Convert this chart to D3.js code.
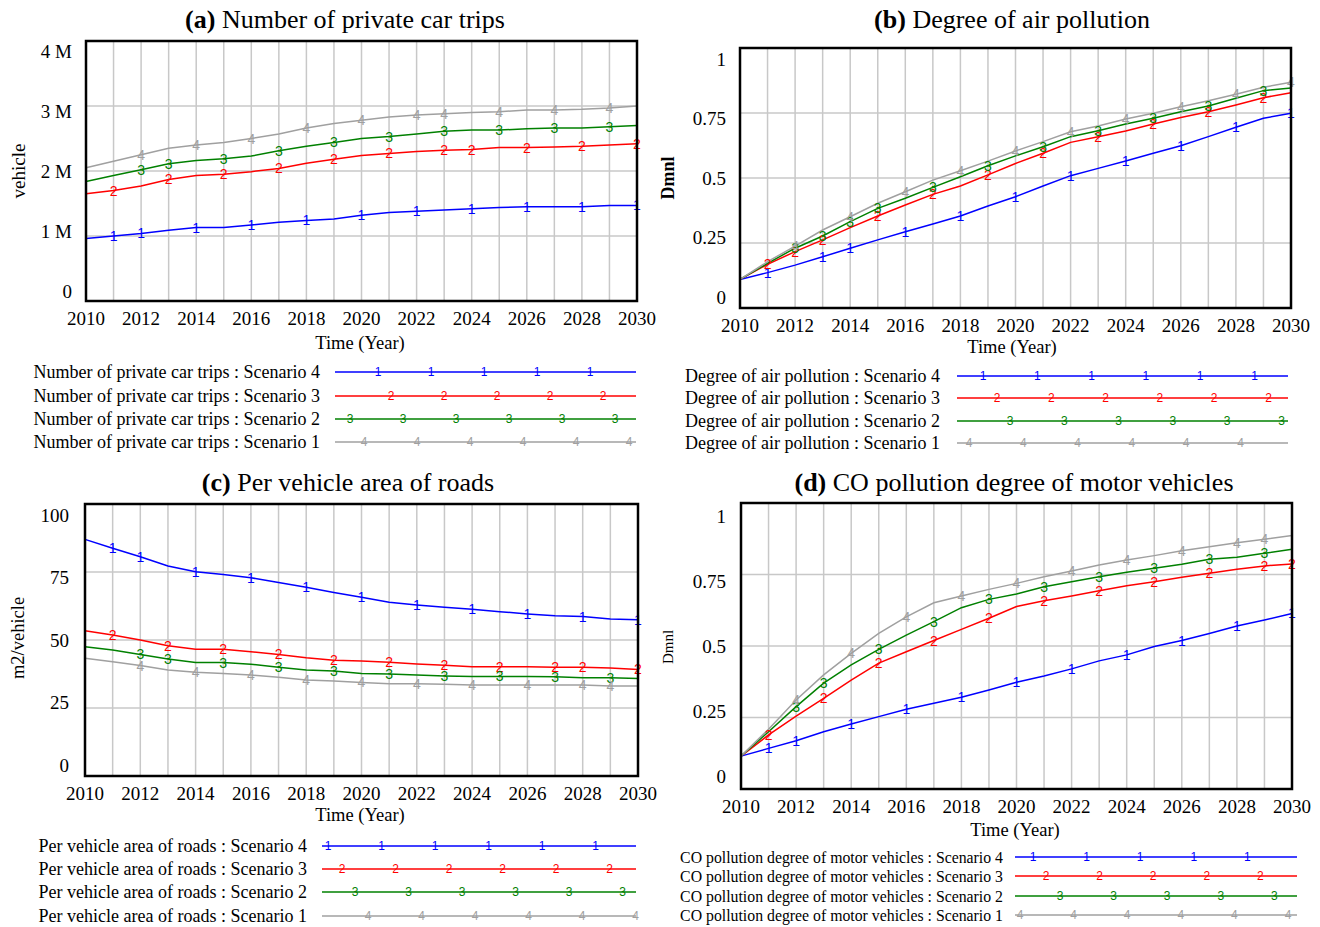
<!DOCTYPE html>
<html>
<head>
<meta charset="utf-8">
<script src="https://cdn.jsdelivr.net/npm/d3@7"></script>
<style>
  body { margin: 0; background: #fff; }
  svg text { font-family: "Liberation Serif", "Times New Roman", serif; fill: #000; }
  .mark { font-family: "Liberation Sans", Arial, sans-serif; }
</style>
</head>
<body>
<div id="chart"></div>
<script>
/** years on the x axis */
let years = [2010, 2011, 2012, 2013, 2014, 2015, 2016, 2017, 2018, 2019, 2020,
  2021, 2022, 2023, 2024, 2025, 2026, 2027, 2028, 2029, 2030];
let xTicks = [2010, 2012, 2014, 2016, 2018, 2020, 2022, 2024, 2026, 2028, 2030];

/** (a) number of private car trips, millions of vehicles */
let tripsS4 = [0.96, 1.00, 1.04, 1.09, 1.13, 1.13, 1.17, 1.21, 1.24, 1.26, 1.32, 1.36, 1.38, 1.40, 1.42, 1.44, 1.45, 1.45, 1.45, 1.47, 1.47];
let tripsS3 = [1.65, 1.70, 1.77, 1.87, 1.93, 1.95, 1.99, 2.04, 2.12, 2.18, 2.24, 2.27, 2.30, 2.32, 2.33, 2.36, 2.36, 2.37, 2.38, 2.40, 2.42];
let tripsS2 = [1.84, 1.93, 2.02, 2.11, 2.16, 2.19, 2.23, 2.31, 2.38, 2.44, 2.50, 2.53, 2.57, 2.61, 2.63, 2.63, 2.65, 2.66, 2.66, 2.68, 2.70];
let tripsS1 = [2.05, 2.15, 2.25, 2.35, 2.40, 2.44, 2.50, 2.57, 2.66, 2.73, 2.78, 2.83, 2.86, 2.88, 2.90, 2.91, 2.94, 2.94, 2.95, 2.97, 3.00];
let tripsTicks = [0, 1, 2, 3, 4];
let tripsTickLabels = ['0', '1 M', '2 M', '3 M', '4 M'];

/** (b) degree of air pollution */
let airS4 = [0.11, 0.136, 0.165, 0.197, 0.23, 0.262, 0.293, 0.323, 0.354, 0.392, 0.428, 0.469, 0.509, 0.537, 0.565, 0.595, 0.624, 0.659, 0.695, 0.73, 0.749];
let airS3 = [0.11, 0.168, 0.217, 0.262, 0.309, 0.354, 0.396, 0.437, 0.469, 0.512, 0.556, 0.595, 0.637, 0.659, 0.681, 0.708, 0.733, 0.755, 0.781, 0.809, 0.828];
let airS2 = [0.11, 0.172, 0.23, 0.277, 0.332, 0.383, 0.422, 0.464, 0.505, 0.547, 0.585, 0.62, 0.659, 0.682, 0.708, 0.73, 0.755, 0.777, 0.807, 0.836, 0.846];
let airS1 = [0.11, 0.178, 0.238, 0.30, 0.351, 0.403, 0.447, 0.492, 0.528, 0.565, 0.604, 0.64, 0.678, 0.70, 0.727, 0.749, 0.774, 0.797, 0.822, 0.849, 0.868];
let dmnlTicks = [0, 0.25, 0.5, 0.75, 1];
let dmnlTickLabels = ['0', '0.25', '0.5', '0.75', '1'];

/** (c) per vehicle area of roads, m2/vehicle */
let areaS4 = [87.0, 83.7, 80.6, 77.2, 75.1, 74.1, 72.9, 71.1, 69.4, 67.5, 65.7, 63.9, 62.9, 62.0, 61.3, 60.4, 59.6, 58.9, 58.6, 57.7, 57.4];
let areaS3 = [53.4, 51.8, 50.0, 47.9, 46.6, 46.6, 45.7, 44.7, 43.5, 42.6, 42.3, 41.8, 41.2, 40.7, 40.2, 40.2, 40.2, 40.0, 40.0, 39.7, 39.2];
let areaS2 = [47.5, 46.3, 44.7, 43.0, 41.7, 41.7, 41.1, 40.0, 39.0, 38.6, 37.7, 37.5, 37.1, 36.8, 36.6, 36.6, 36.6, 36.5, 36.1, 36.1, 35.8];
let areaS1 = [43.3, 42.0, 40.6, 39.0, 38.1, 37.7, 37.1, 36.3, 35.3, 34.9, 34.4, 33.9, 33.9, 33.7, 33.5, 33.5, 33.5, 33.5, 33.5, 33.1, 33.1];
let areaTicks = [0, 25, 50, 75, 100];
let areaTickLabels = ['0', '25', '50', '75', '100'];

/** (d) CO pollution degree of motor vehicles */
let coS4 = [0.115, 0.142, 0.169, 0.20, 0.227, 0.253, 0.279, 0.30, 0.321, 0.346, 0.373, 0.395, 0.42, 0.448, 0.469, 0.498, 0.519, 0.544, 0.57, 0.591, 0.614];
let coS3 = [0.115, 0.189, 0.255, 0.317, 0.381, 0.44, 0.48, 0.519, 0.558, 0.597, 0.638, 0.658, 0.675, 0.693, 0.711, 0.725, 0.74, 0.754, 0.768, 0.78, 0.787];
let coS2 = [0.115, 0.20, 0.288, 0.37, 0.434, 0.488, 0.538, 0.585, 0.634, 0.663, 0.682, 0.707, 0.725, 0.742, 0.758, 0.772, 0.786, 0.803, 0.81, 0.824, 0.838];
let coS1 = [0.115, 0.209, 0.311, 0.399, 0.474, 0.544, 0.602, 0.651, 0.675, 0.698, 0.719, 0.742, 0.762, 0.783, 0.801, 0.816, 0.833, 0.847, 0.861, 0.873, 0.886];

/** scenario names, marker digits and colours (order: scenario 4, 3, 2, 1) */
let scenarios = ['Scenario 4', 'Scenario 3', 'Scenario 2', 'Scenario 1'];
let markDigits = ['1', '2', '3', '4'];
let colors = ['#0000ff', '#ff0000', '#008000', '#a0a0a0'];

/** years where the digit markers sit on each line */
let marksA = [
  [2011, 2012, 2014, 2016, 2018, 2020, 2022, 2024, 2026, 2028, 2030],
  [2011, 2013, 2015, 2017, 2019, 2021, 2023, 2024, 2026, 2028, 2030],
  [2012, 2013, 2015, 2017, 2019, 2021, 2023, 2025, 2027, 2029],
  [2012, 2014, 2016, 2018, 2020, 2022, 2023, 2025, 2027, 2029]];
let marksB = [
  [2011, 2013, 2014, 2016, 2018, 2020, 2022, 2024, 2026, 2028, 2030],
  [2011, 2012, 2013, 2015, 2017, 2019, 2021, 2023, 2025, 2027, 2029],
  [2012, 2013, 2014, 2015, 2017, 2019, 2021, 2023, 2025, 2027, 2029],
  [2012, 2014, 2016, 2018, 2020, 2022, 2024, 2026, 2028, 2030]];
let marksC = [
  [2011, 2012, 2014, 2016, 2018, 2020, 2022, 2024, 2026, 2028, 2030],
  [2011, 2013, 2015, 2017, 2019, 2021, 2023, 2025, 2027, 2028, 2030],
  [2012, 2013, 2015, 2017, 2019, 2021, 2023, 2025, 2027, 2029],
  [2012, 2014, 2016, 2018, 2020, 2022, 2024, 2026, 2028, 2029]];
let marksD = [
  [2011, 2012, 2014, 2016, 2018, 2020, 2022, 2024, 2026, 2028, 2030],
  [2011, 2013, 2015, 2017, 2019, 2021, 2023, 2025, 2027, 2029, 2030],
  [2012, 2013, 2015, 2017, 2019, 2021, 2023, 2025, 2027, 2029],
  [2012, 2014, 2016, 2018, 2020, 2022, 2024, 2026, 2028, 2029]];

let width = 1320;
let height = 927;

let svg = d3.select('#chart')
  .append('svg')
  .attr('width', width)
  .attr('height', height);

/** panel layout */
let panels = [
  {
    tag: '(a)', title: ' Number of private car trips', titleX: 345, titleY: 19,
    series: [tripsS4, tripsS3, tripsS2, tripsS1], marks: marksA,
    yTicks: tripsTicks, yLabels: tripsTickLabels, yMax: 4,
    left: 86, right: 637, top: 41, bottom: 301, yLabelEnd: 72,
    yTitle: 'vehicle', yTitleX: 18, yTitleY: 171, yTitleSize: 19, yTitleBold: false,
    timeY: 343, timeX: 360, labelShift: 10,
    legendName: 'Number of private car trips', legTextEnd: 320, legX0: 335, legX1: 636,
    legY: [372, 396, 419, 442], legOff: [43, 56, 15, 29], legStep: 53, legSize: 18
  },
  {
    tag: '(b)', title: ' Degree of air pollution', titleX: 1012, titleY: 19,
    series: [airS4, airS3, airS2, airS1], marks: marksB,
    yTicks: dmnlTicks, yLabels: dmnlTickLabels, yMax: 1,
    left: 740, right: 1291, top: 48, bottom: 308, yLabelEnd: 726,
    yTitle: 'Dmnl', yTitleX: 668, yTitleY: 178, yTitleSize: 18, yTitleBold: true,
    timeY: 347, timeX: 1012, labelShift: 11,
    legendName: 'Degree of air pollution', legTextEnd: 940, legX0: 957, legX1: 1288,
    legY: [376, 398, 421, 443], legOff: [26, 40, 53, 12], legStep: 54.3, legSize: 18
  },
  {
    tag: '(c)', title: ' Per vehicle area of roads', titleX: 348, titleY: 482,
    series: [areaS4, areaS3, areaS2, areaS1], marks: marksC,
    yTicks: areaTicks, yLabels: areaTickLabels, yMax: 100,
    left: 85, right: 638, top: 504, bottom: 776, yLabelEnd: 69,
    yTitle: 'm2/vehicle', yTitleX: 18, yTitleY: 638, yTitleSize: 18.5, yTitleBold: false,
    timeY: 815, timeX: 360, labelShift: 11,
    legendName: 'Per vehicle area of roads', legTextEnd: 307, legX0: 322, legX1: 636,
    legY: [846, 869, 892, 916], legOff: [6, 20, 33, 46], legStep: 53.5, legSize: 18
  },
  {
    tag: '(d)', title: ' CO pollution degree of motor vehicles', titleX: 1014, titleY: 482,
    series: [coS4, coS3, coS2, coS1], marks: marksD,
    yTicks: dmnlTicks, yLabels: dmnlTickLabels, yMax: 1,
    left: 741, right: 1292, top: 503, bottom: 789, yLabelEnd: 726,
    yTitle: 'Dmnl', yTitleX: 668, yTitleY: 647, yTitleSize: 15, yTitleBold: false,
    timeY: 830, timeX: 1015, labelShift: 13,
    legendName: 'CO pollution degree of motor vehicles', legTextEnd: 1003, legX0: 1015, legX1: 1297,
    legY: [857, 876, 896, 915], legOff: [18, 31, 45, 5], legStep: 53.6, legSize: 15.8
  }
];

panels.forEach(p => drawPanel(p));

function drawPanel(p) {
  let g = svg.append('g');

  let x = d3.scaleLinear().domain([2010, 2030]).range([p.left, p.right]);
  let y = d3.scaleLinear().domain([0, p.yMax]).range([p.bottom, p.top]);

  /** grid: every year vertically, every tick horizontally */
  g.selectAll('.vgrid')
    .data(years.slice(1, -1))
    .enter()
    .append('line')
    .attr('x1', d => x(d)).attr('x2', d => x(d))
    .attr('y1', p.top).attr('y2', p.bottom)
    .style('stroke', '#c8c8c8').style('stroke-width', 1.5);
  g.selectAll('.hgrid')
    .data(p.yTicks.slice(1, -1))
    .enter()
    .append('line')
    .attr('x1', p.left).attr('x2', p.right)
    .attr('y1', d => y(d)).attr('y2', d => y(d))
    .style('stroke', '#c8c8c8').style('stroke-width', 1.5);

  /** series lines */
  let line = d3.line()
    .x((d, i) => x(years[i]))
    .y(d => y(d));

  p.series.forEach((s, k) => {
    g.append('path')
      .datum(s)
      .attr('d', line)
      .style('fill', 'none')
      .style('stroke', colors[k])
      .style('stroke-width', 1.5);
  });

  /** digit markers on the lines */
  p.series.forEach((s, k) => {
    g.selectAll('.m' + k)
      .data(p.marks[k])
      .enter()
      .append('text')
      .attr('class', 'mark')
      .attr('x', d => x(d))
      .attr('y', d => y(s[years.indexOf(d)]))
      .attr('text-anchor', 'middle')
      .attr('dominant-baseline', 'central')
      .style('font-size', '14px')
      .style('fill', colors[k])
      .text(markDigits[k]);
  });

  /** frame */
  g.append('rect')
    .attr('x', p.left).attr('y', p.top)
    .attr('width', p.right - p.left).attr('height', p.bottom - p.top)
    .style('fill', 'none')
    .style('stroke', '#000')
    .style('stroke-width', 2.5);

  /** y tick labels, pulled slightly towards the middle like the original */
  let n = p.yTicks.length - 1;
  g.selectAll('.ylab')
    .data(p.yTicks)
    .enter()
    .append('text')
    .attr('x', p.yLabelEnd)
    .attr('y', (d, i) => y(d) + p.labelShift * (2 * i / n - 1))
    .attr('text-anchor', 'end')
    .attr('dominant-baseline', 'central')
    .style('font-size', '19px')
    .text((d, i) => p.yLabels[i]);

  /** x tick labels */
  g.selectAll('.xlab')
    .data(xTicks)
    .enter()
    .append('text')
    .attr('x', d => x(d))
    .attr('y', p.bottom + 17)
    .attr('text-anchor', 'middle')
    .attr('dominant-baseline', 'central')
    .style('font-size', '19px')
    .text(d => d);

  /** axis titles */
  g.append('text')
    .attr('x', p.timeX).attr('y', p.timeY)
    .attr('text-anchor', 'middle')
    .attr('dominant-baseline', 'central')
    .style('font-size', '18.5px')
    .text('Time (Year)');

  g.append('text')
    .attr('transform', `translate(${p.yTitleX},${p.yTitleY}) rotate(-90)`)
    .attr('text-anchor', 'middle')
    .attr('dominant-baseline', 'central')
    .style('font-size', p.yTitleSize + 'px')
    .style('font-weight', p.yTitleBold ? 'bold' : 'normal')
    .text(p.yTitle);

  /** panel title */
  let t = g.append('text')
    .attr('x', p.titleX).attr('y', p.titleY)
    .attr('text-anchor', 'middle')
    .attr('dominant-baseline', 'central')
    .style('font-size', '26px');
  t.append('tspan').style('font-weight', 'bold').text(p.tag);
  t.append('tspan').text(p.title);

  /** legend */
  scenarios.forEach((sc, k) => {
    let ly = p.legY[k];
    g.append('text')
      .attr('x', p.legTextEnd).attr('y', ly)
      .attr('text-anchor', 'end')
      .attr('dominant-baseline', 'central')
      .style('font-size', p.legSize + 'px')
      .text(p.legendName + ' : ' + sc);
    g.append('line')
      .attr('x1', p.legX0).attr('x2', p.legX1)
      .attr('y1', ly).attr('y2', ly)
      .style('stroke', colors[k])
      .style('stroke-width', 1.5);
    let pos = [];
    for (let mx = p.legX0 + p.legOff[k]; mx <= p.legX1 + 1; mx += p.legStep) pos.push(mx);
    g.selectAll('.lm' + k)
      .data(pos)
      .enter()
      .append('text')
      .attr('class', 'mark')
      .attr('x', d => d).attr('y', ly)
      .attr('text-anchor', 'middle')
      .attr('dominant-baseline', 'central')
      .style('font-size', '12px')
      .style('fill', colors[k])
      .text(markDigits[k]);
  });
}
</script>
</body>
</html>
